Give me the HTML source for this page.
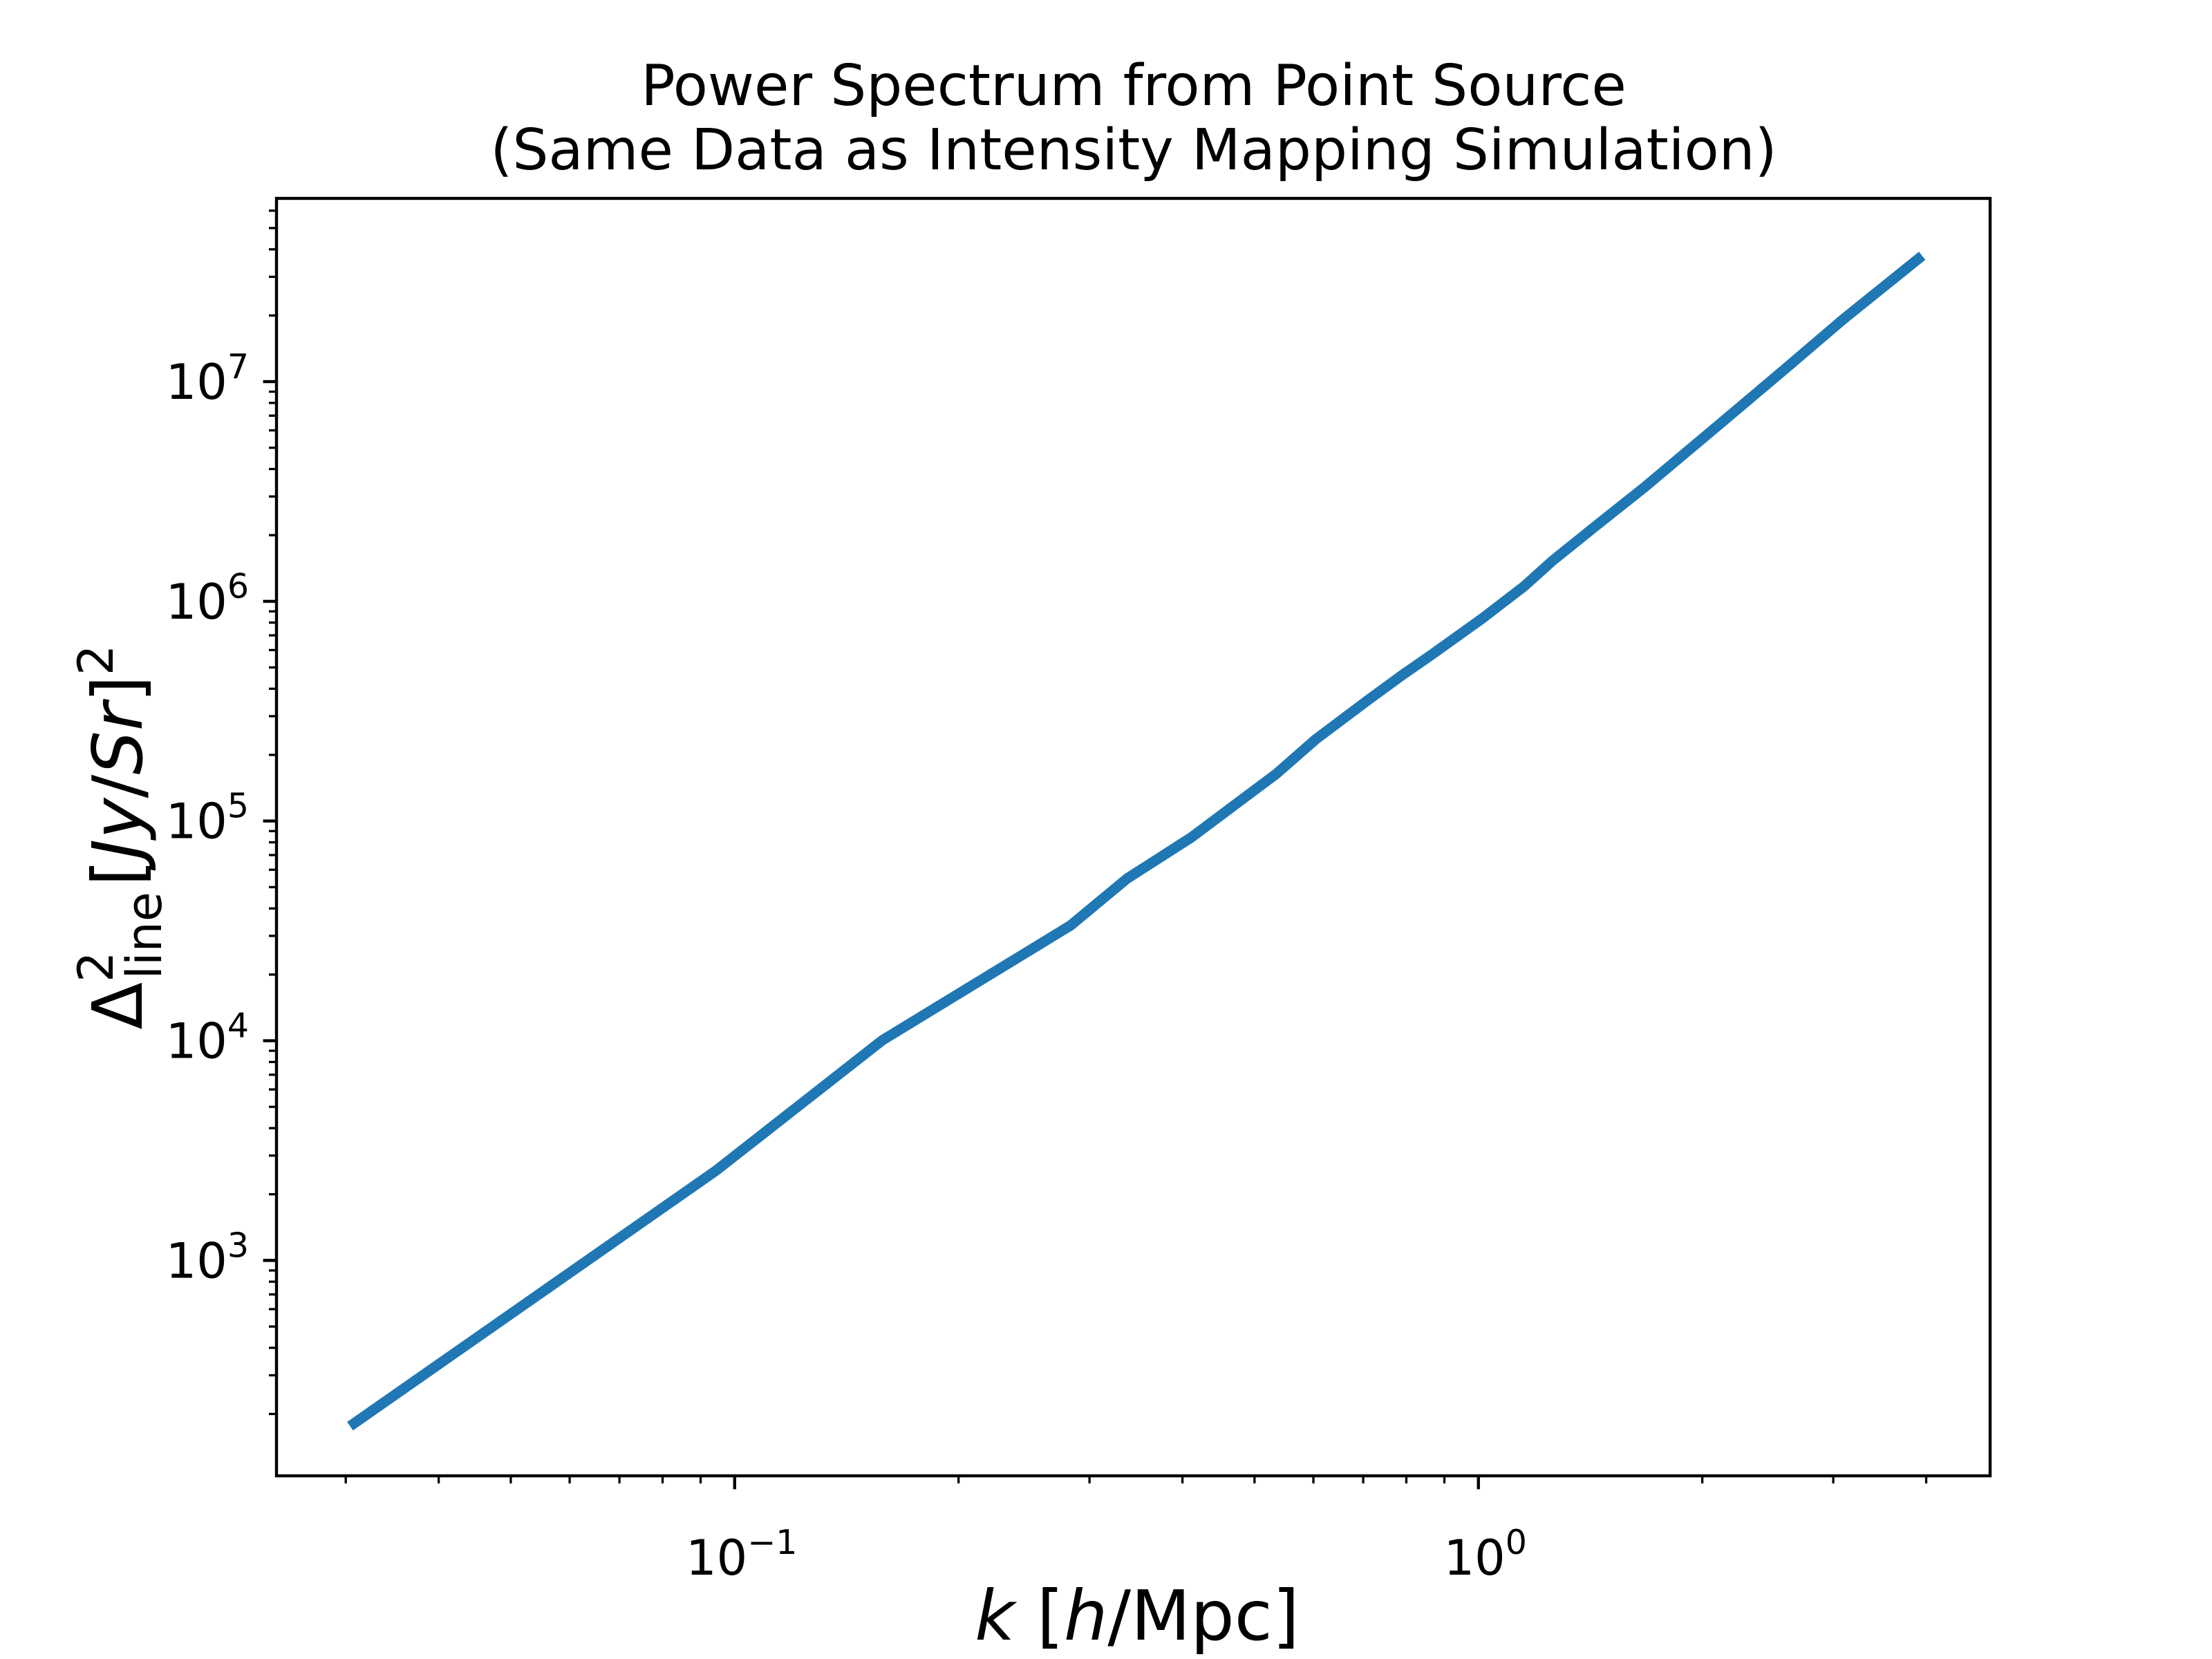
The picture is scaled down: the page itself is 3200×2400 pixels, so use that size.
<!DOCTYPE html>
<html><head><meta charset="utf-8"><style>
html,body{margin:0;padding:0;background:#fff;width:3200px;height:2400px;overflow:hidden}
svg{display:block;font-family:"DejaVu Sans","Liberation Sans",sans-serif}
</style></head><body>
<svg id="chart" width="3200" height="2400" viewBox="0 0 3200 2400">
<rect width="3200" height="2400" fill="#fff"/>
<text x="1640" y="152" font-size="82" text-anchor="middle">Power Spectrum from Point Source</text>
<text x="1640" y="245" font-size="82" text-anchor="middle">(Same Data as Intensity Mapping Simulation)</text>
<g id="ticks"></g>
<path id="series" fill="none" stroke="#1f77b4" stroke-width="15" stroke-linejoin="round"/>
<rect x="400" y="287" width="2479" height="1848" fill="none" stroke="#000" stroke-width="4.4"/>
<text x="1645" y="2372" font-size="100" text-anchor="middle"><tspan font-style="italic">k</tspan> [<tspan font-style="italic">h</tspan>/Mpc]</text>
<text transform="translate(205,1211) rotate(-90)" font-size="100" text-anchor="middle">Δ<tspan font-size="70" dy="-42">2</tspan><tspan font-size="70" dx="-40" dy="70">line</tspan><tspan dy="-28" dx="8">[</tspan><tspan font-style="italic">Jy</tspan>/<tspan font-style="italic">Sr</tspan>]<tspan font-size="70" dy="-42">2</tspan></text>
</svg>
<script>
const kValues=[0.0304,0.0944,0.158,0.283,0.337,0.411,0.479,0.535,0.604,0.711,0.793,0.866,1.01,1.152,1.258,1.435,1.673,2.084,2.595,3.09,3.95];
const powerValues=[176,2565,10050,33500,54700,84200,124000,164000,235000,356000,466000,573000,831000,1170000,1530000,2190000,3310000,6180000,11560000,19150000,37400000];
const xTickExps=[-1,0];
const yTickExps=[3,4,5,6,7];
const X0=400,X1=2879,Y0=2135,Y1=287;
const xLogMin=-1.616,xLogMax=0.688,yLogMin=2.0195,yLogMax=7.834;
function xs(k){return X0+(Math.log10(k)-xLogMin)/(xLogMax-xLogMin)*(X1-X0);}
function ys(v){return Y0-(Math.log10(v)-yLogMin)/(yLogMax-yLogMin)*(Y0-Y1);}
const NS="http://www.w3.org/2000/svg";
const g=document.getElementById('ticks');
function line(x1,y1,x2,y2,w,name){const l=document.createElementNS(NS,'line');l.setAttribute('x1',x1);l.setAttribute('y1',y1);l.setAttribute('x2',x2);l.setAttribute('y2',y2);l.setAttribute('stroke','#000');l.setAttribute('stroke-width',w);


g.appendChild(l);}
function label(x,y,exp,anchor,name){const t=document.createElementNS(NS,'text');t.setAttribute('x',x);t.setAttribute('y',y);t.setAttribute('font-size','70');t.setAttribute('text-anchor',anchor);


t.innerHTML='10<tspan font-size="49" dy="-30">'+(exp<0?'−'+(-exp):exp)+'</tspan>';g.appendChild(t);}
for(let e=-2;e<=0;e++)for(let m=1;m<=9;m++){const k=m*Math.pow(10,e);const L=Math.log10(k);if(L<xLogMin||L>xLogMax)continue;const x=xs(k);
if(m===1){line(x,Y0,x,Y0+19.4,4.4,'x-major-tick');}else line(x,Y0,x,Y0+11,3.3,'x-minor-tick');}
xTickExps.forEach(e=>label(xs(Math.pow(10,e))+10,2278,e,'middle','x-tick-label'));
for(let e=2;e<=7;e++)for(let m=1;m<=9;m++){const v=m*Math.pow(10,e);const L=Math.log10(v);if(L<yLogMin||L>yLogMax)continue;const y=ys(v);
if(m===1){line(X0,y,X0-19.4,y,4.4,'y-major-tick');}else line(X0,y,X0-11,y,3.3,'y-minor-tick');}
yTickExps.forEach(e=>label(360,ys(Math.pow(10,e))+25,e,'end','y-tick-label'));
document.getElementById('series').setAttribute('d',kValues.map((k,i)=>(i?'L':'M')+xs(k).toFixed(1)+','+ys(powerValues[i]).toFixed(1)).join(''));
</script>
</body></html>
